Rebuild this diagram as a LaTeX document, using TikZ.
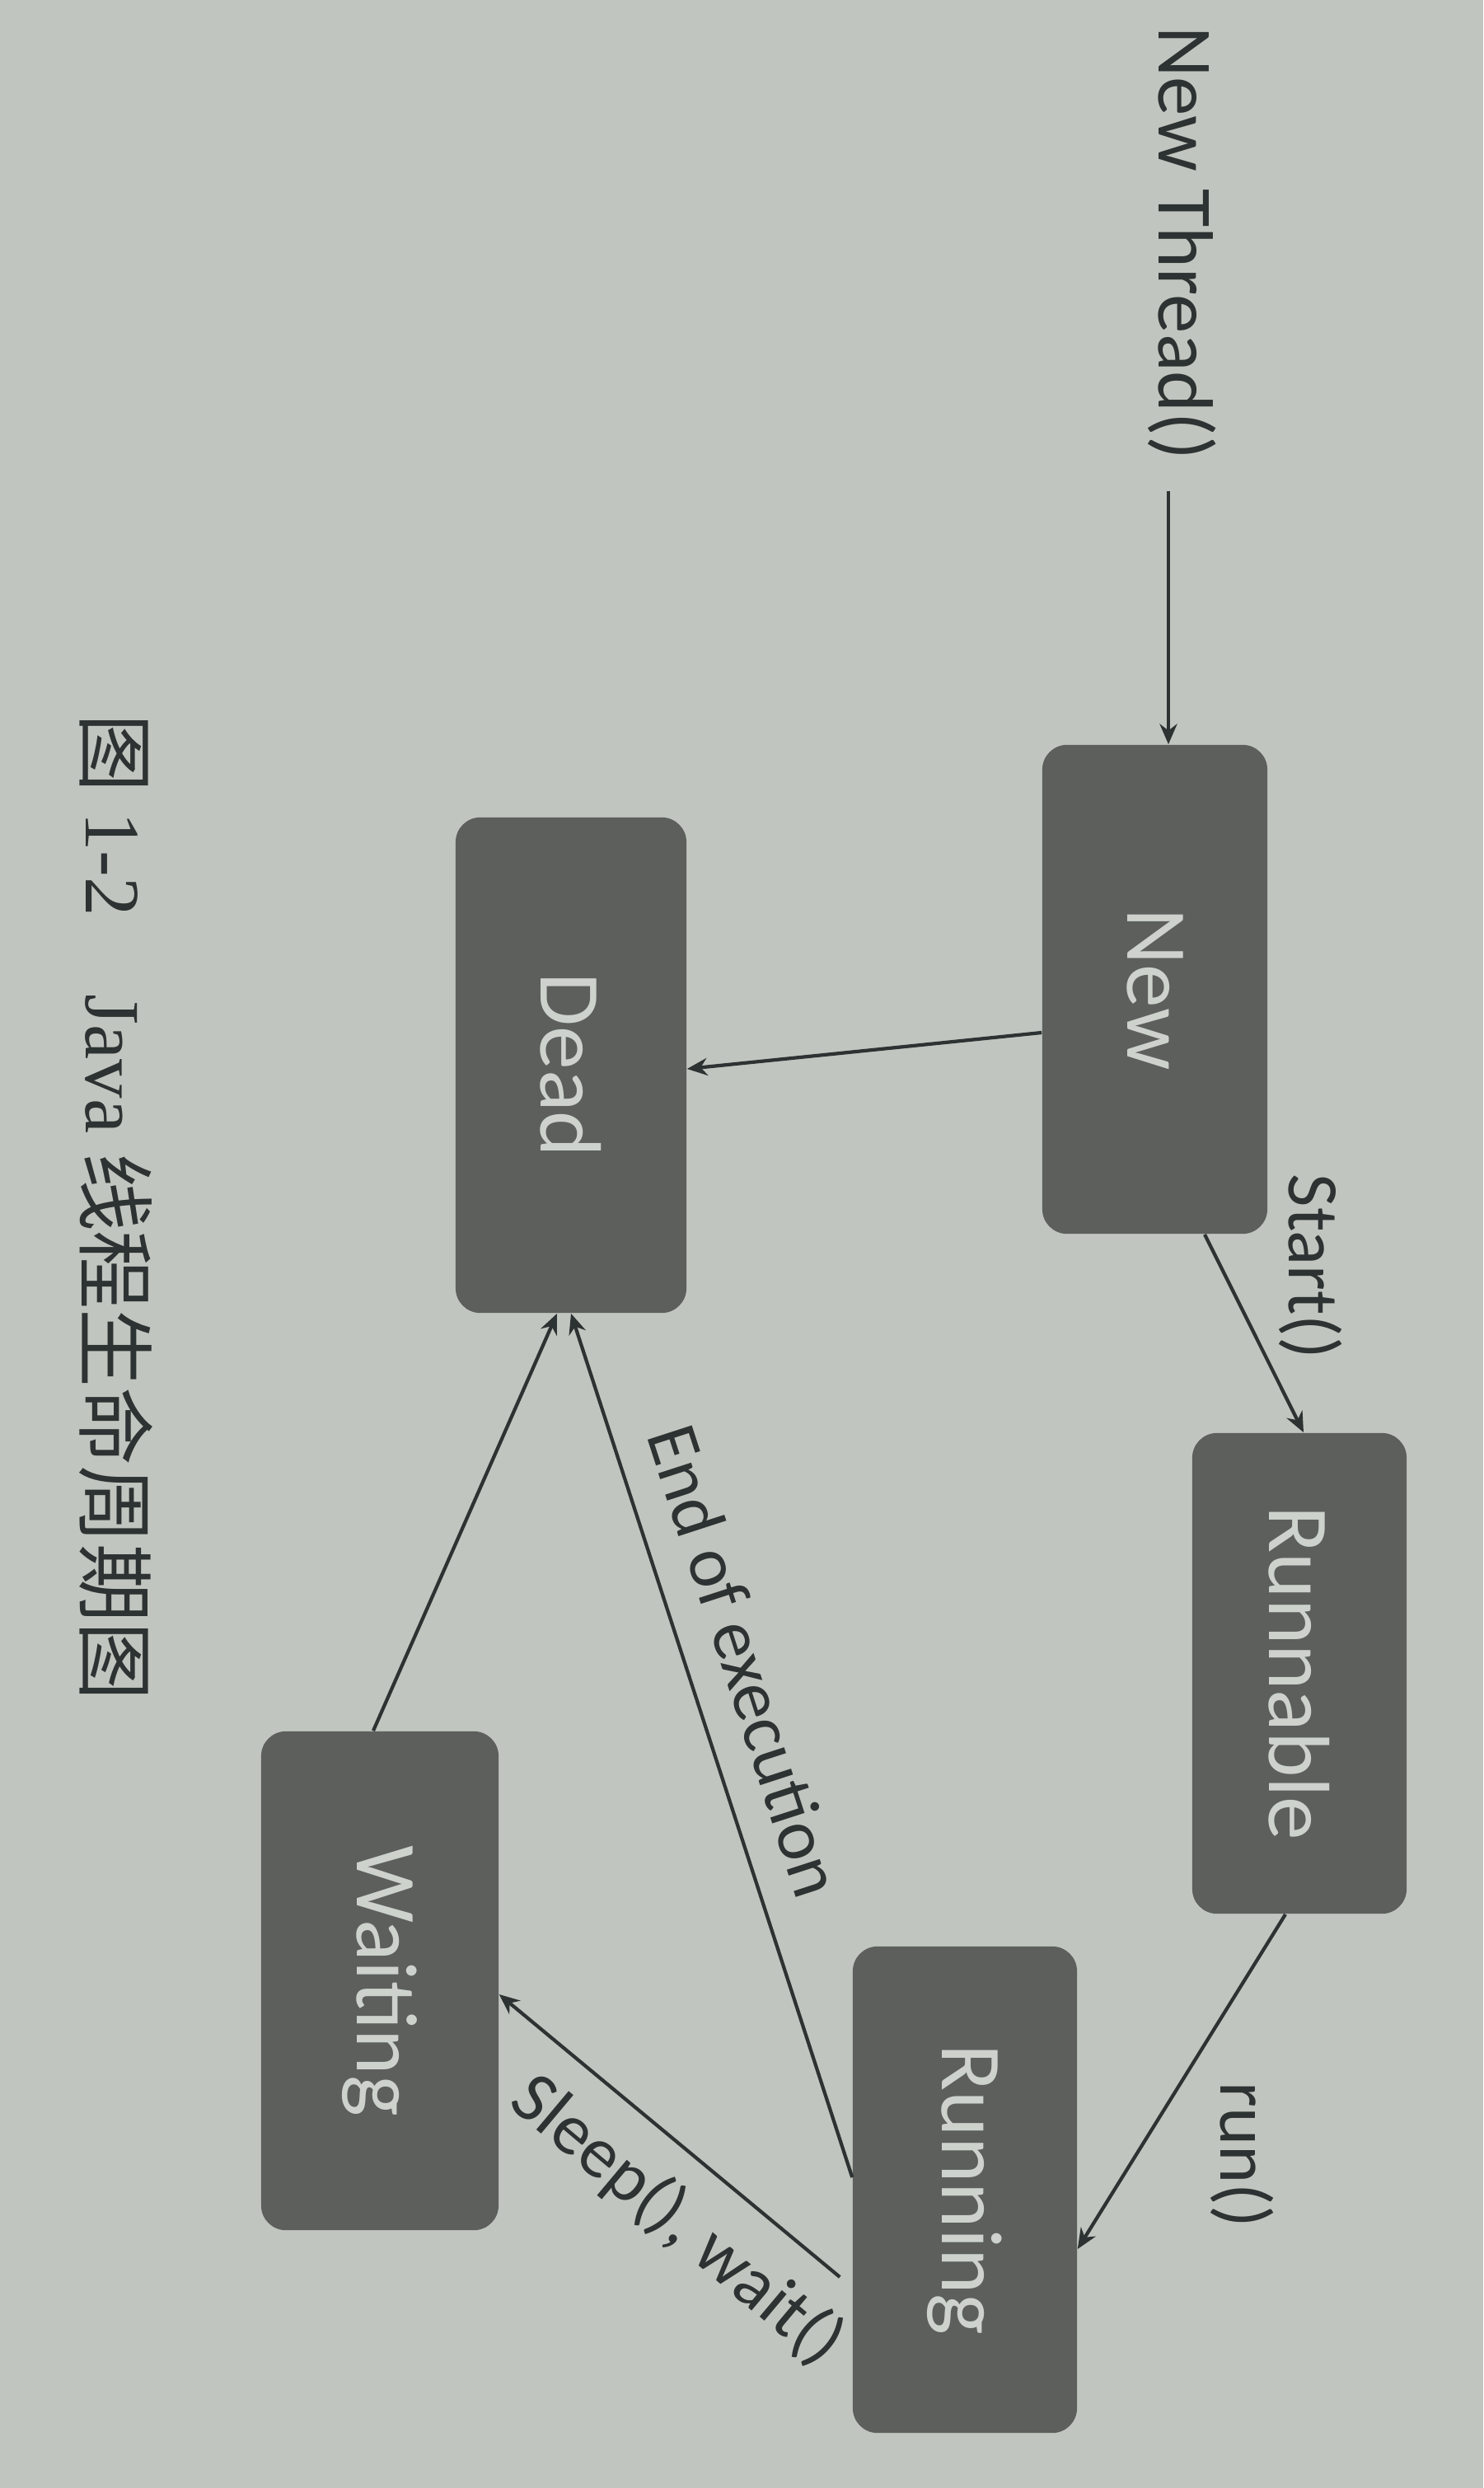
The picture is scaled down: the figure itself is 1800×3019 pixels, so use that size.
\documentclass[tikz,border=0pt]{standalone}
\usepackage{fontspec}
\setmainfont{Carlito}
\newfontfamily\capserif{Liberation Serif}
\newfontfamily\cjk{Noto Sans CJK SC}
\usetikzlibrary{arrows.meta,calc}
\definecolor{paper}{RGB}{192,197,191}
\definecolor{boxfill}{RGB}{92,95,92}
\definecolor{boxtext}{RGB}{205,210,205}
\definecolor{ink}{RGB}{45,50,50}
\tikzset{
  state/.style={draw=none, fill=boxfill, rounded corners=0.3cm, inner sep=0pt,
    text=boxtext, font=\fontsize{30}{36}\selectfont},
  lbl/.style={text=ink, inner sep=0pt, font=\fontsize{25}{30}\selectfont},
  arr/.style={draw=ink, line width=1.2pt, -{Stealth[length=7pt,width=6pt]}},
}
\begin{document}
\begin{tikzpicture}[x=0.01cm,y=-0.01cm]
\fill[paper] (0,0) rectangle (1800,3019);
\useasboundingbox (0,0) rectangle (1800,3019);

% states
\node[state, minimum width=2.73cm, minimum height=5.93cm] (new) at (1401.5,1200.5) {\rotatebox{-90}{New}};
\node[state, minimum width=2.80cm, minimum height=6.01cm] (dead) at (693,1292.5) {\rotatebox{-90}{Dead}};
\node[state, minimum width=2.60cm, minimum height=5.83cm] (runnable) at (1577,2030.5) {\rotatebox{-90}{Runnable}};
\node[state, minimum width=2.72cm, minimum height=5.90cm] (running) at (1171,2657) {\rotatebox{-90}{Running}};
\node[state, minimum width=2.88cm, minimum height=6.05cm] (waiting) at (461,2403.5) {\rotatebox{-90}{Waiting}};

% texts
\node[lbl, rotate=-90, font=\fontsize{27}{32}\selectfont] (nt) at (1435,295) {New Thread()};
\node[lbl, rotate=-90] (start) at (1591,1537) {Start()};
\node[lbl, rotate=-90] (run) at (1508,2615) {run()};
\node[lbl, rotate=-72] (eoe) at (905,2015) {End of execution};
\node[lbl, rotate=-40] (slp) at (822,2695) {Sleep(), wait()};
\node[rotate=-90, inner sep=0pt, text=ink, font=\fontsize{27}{32}\selectfont\capserif] (cap) at (141,1465)
  {{\cjk 图} 1-2\quad Java {\cjk 线程生命周期图}};

% connectors
\draw[arr] ($(nt.east)+(-17,37)$) -- ($(new.north)+(16.5,0)$);
\draw[arr] ($(new.west)+(0,52.5)$) -- ($(dead.east)+(0,4.5)$);
\draw[arr] ($(new.south)+(60.5,0)$) -- ($(runnable.north)+(5,0)$);
\draw[arr] ($(runnable.south)+(-17,0)$) -- ($(running.east)+(0,72)$);
\draw[arr] ($(running.west)+(0,-15)$) -- (dead.south);
\draw[arr] ($(running.west)+(-15,106)$) -- ($(waiting.east)+(0,16.5)$);
\draw[arr] ($(waiting.north)+(-8,0)$) -- ($(dead.south)+(-17,0)$);
\end{tikzpicture}
\end{document}
